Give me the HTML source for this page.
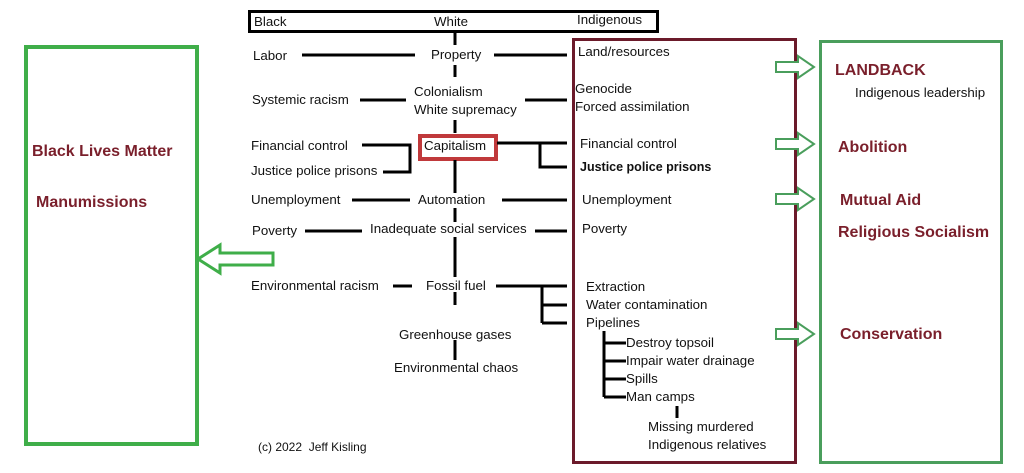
<!DOCTYPE html>
<html><head><style>
body{margin:0;background:#fff;width:1024px;height:473px;position:relative;overflow:hidden;font-family:"Liberation Sans",sans-serif;}
.t{position:absolute;font-size:13.3px;color:#111;white-space:nowrap;line-height:15px;}
.b{position:absolute;font-size:16px;font-weight:bold;color:#7a1f2b;white-space:nowrap;line-height:18px;}
svg{position:absolute;left:0;top:0;}
</style></head><body>
<svg width="1024" height="473">
<g fill="none">
<rect x="249.5" y="11.5" width="408" height="20" stroke="#000" stroke-width="3"/>
<rect x="26" y="47" width="171" height="397" stroke="#3fae49" stroke-width="4"/>
<rect x="573.5" y="39.5" width="222" height="423" stroke="#6b1a2a" stroke-width="3"/>
<rect x="820.5" y="41.5" width="181" height="421" stroke="#4a9e5c" stroke-width="3"/>
<rect x="420" y="136" width="76" height="23" stroke="#c0393b" stroke-width="4"/>
</g>
<g stroke="#000" stroke-width="3" fill="none">
<path d="M455 32V45M455 65V77M455 120V133M455 160V193M455 208V222M455 237V277M455 292V305M455 340V360"/>
<path d="M302 55H415M494 55H567M360 100H406M525 100H567"/>
<path d="M362 145H410V172H383M497 143H567M540 143V167H567"/>
<path d="M352 200H410M502 200H567M305 231H362M535 231H567"/>
<path d="M393 286H412M496 286H567M542 286V323M542 305H567M542 323H567"/>
<path d="M604 331V397M604 343H626M604 361H626M604 379H626M604 397H626M677 406V418"/>
</g>
<g stroke="#4a9e5c" stroke-width="2" fill="#fff">
<path d="M776 62H798V56L814 67L798 78V72H776Z"/>
<path d="M776 139H798V133L814 144L798 155V149H776Z"/>
<path d="M776 194H798V188L814 199L798 210V204H776Z"/>
<path d="M776 329H798V323L814 334L798 345V339H776Z"/>
</g>
<path d="M273 253H220V245L198 259L220 273V265H273Z" stroke="#3fae49" stroke-width="3" fill="#fff"/>
</svg>
<div class="t" style="left:254px;top:14px">Black</div>
<div class="t" style="left:434px;top:14px">White</div>
<div class="t" style="left:577px;top:12px">Indigenous</div>
<div class="t" style="left:253px;top:48px">Labor</div>
<div class="t" style="left:431px;top:47px">Property</div>
<div class="t" style="left:578px;top:44px">Land/resources</div>
<div class="t" style="left:252px;top:92px">Systemic racism</div>
<div class="t" style="left:414px;top:84px">Colonialism</div>
<div class="t" style="left:414px;top:102px">White supremacy</div>
<div class="t" style="left:575px;top:81px">Genocide</div>
<div class="t" style="left:575px;top:99px">Forced assimilation</div>
<div class="t" style="left:251px;top:138px">Financial control</div>
<div class="t" style="left:424px;top:138px">Capitalism</div>
<div class="t" style="left:580px;top:136px">Financial control</div>
<div class="t" style="left:251px;top:163px">Justice police prisons</div>
<div class="t" style="left:580px;top:160px;font-weight:bold;font-size:12.5px">Justice police prisons</div>
<div class="t" style="left:251px;top:192px">Unemployment</div>
<div class="t" style="left:418px;top:192px">Automation</div>
<div class="t" style="left:582px;top:192px">Unemployment</div>
<div class="t" style="left:252px;top:223px">Poverty</div>
<div class="t" style="left:370px;top:221px">Inadequate social services</div>
<div class="t" style="left:582px;top:221px">Poverty</div>
<div class="t" style="left:251px;top:278px">Environmental racism</div>
<div class="t" style="left:426px;top:278px">Fossil fuel</div>
<div class="t" style="left:586px;top:279px">Extraction</div>
<div class="t" style="left:586px;top:297px">Water contamination</div>
<div class="t" style="left:586px;top:315px">Pipelines</div>
<div class="t" style="left:399px;top:327px">Greenhouse gases</div>
<div class="t" style="left:394px;top:360px">Environmental chaos</div>
<div class="t" style="left:626px;top:335px">Destroy topsoil</div>
<div class="t" style="left:626px;top:353px">Impair water drainage</div>
<div class="t" style="left:626px;top:371px">Spills</div>
<div class="t" style="left:626px;top:389px">Man camps</div>
<div class="t" style="left:648px;top:419px">Missing murdered</div>
<div class="t" style="left:648px;top:437px">Indigenous relatives</div>
<div class="t" style="left:258px;top:440px;font-size:12px">(c) 2022&nbsp; Jeff Kisling</div>
<div class="b" style="left:32px;top:143px">Black Lives Matter</div>
<div class="b" style="left:36px;top:194px">Manumissions</div>
<div class="b" style="left:835px;top:62px">LANDBACK</div>
<div class="t" style="left:855px;top:85px">Indigenous leadership</div>
<div class="b" style="left:838px;top:139px">Abolition</div>
<div class="b" style="left:840px;top:192px">Mutual Aid</div>
<div class="b" style="left:838px;top:224px">Religious Socialism</div>
<div class="b" style="left:840px;top:326px">Conservation</div>
</body></html>
